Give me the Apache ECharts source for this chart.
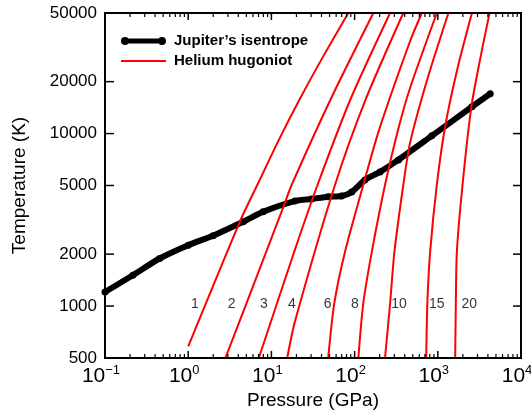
<!DOCTYPE html>
<html><head><meta charset="utf-8">
<script src="https://cdn.jsdelivr.net/npm/echarts@6/dist/echarts.min.js"></script>
<style>html,body{margin:0;padding:0;background:#fff}#c{width:531px;height:411px}</style>
</head><body><div id="c"></div>
<script>
// Jupiter's isentrope (Pressure GPa, Temperature K)
const isentropeP = [0.1, 0.216, 0.453, 1.0, 1.99, 4.57, 7.94, 19.1, 30.4, 48.2, 69.8, 92.3, 133, 202, 336, 847, 2570, 4266];
const isentropeT = [1207, 1509, 1887, 2254, 2559, 3080, 3521, 4063, 4174, 4304, 4345, 4584, 5383, 5992, 7036, 9701, 14300, 17020];

// Helium hugoniots [P (GPa), T (K)]
const hug1  = [[1.0,583],[4.17,3080],[6.92,5150],[12.3,9190],[21.7,15700],[41.8,27930],[84,50000]];
const hug2  = [[2.80,500],[5.0,1033],[14.2,3851],[17.5,5034],[51.9,15920],[168,50000]];
const hug3  = [[7.06,500],[19.1,2109],[36.2,5102],[90.3,16025],[267,50000]];
const hug4  = [[15.5,500],[19.1,807],[58.1,5034],[137,15920],[385,50000]];
const hug6  = [[48.2,500],[56.9,1033],[76.6,2061],[127,5034],[197,10510],[464,34280],[643,50000]];
const hug8  = [[111,500],[127,1033],[161,2061],[232,5034],[333,10510],[464,18370],[973,50000]];
const hug10 = [[232,500],[267,1033],[301,2061],[385,5034],[464,8831],[745,20530],[1343,50000]];
const hug15 = [[725,500],[750,1055],[809,2061],[973,5034],[1225,10990],[1710,23470],[2570,50000]];
const hug20 = [[1618,500],[1648,1055],[1694,2061],[1982,5034],[2521,14110],[3236,27200],[4188,50000]];

// curve labels
const hugLabels = ['1','2','3','4','6','8','10','15','20'];
const hugLabelP = [1.2, 3.33, 8.1, 17.6, 47.4, 101, 342, 973, 2384];
const hugLabelT = 1020;

// axis ticks and labels
const yLabelValues = [500, 1000, 2000, 5000, 10000, 20000, 50000];
const yTickValues = [1000, 2000, 5000, 10000, 20000];
const xLabelValues = [0.1, 1, 10, 100, 1000, 10000];
const xMajorTicks = [1, 10, 100, 1000];
const xMinorTicks = [];
for (const d of [0.1, 1, 10, 100, 1000]) for (let k = 2; k <= 9; k++) xMinorTicks.push(+(d * k).toPrecision(3));

const FONT = '"Liberation Sans", Arial, Helvetica, sans-serif';
const hugAll = [hug1, hug2, hug3, hug4, hug6, hug8, hug10, hug15, hug20];
const X_MIN = 0.1, X_MAX = 10000, Y_MIN = 500, Y_MAX = 50000;

const chart = echarts.init(document.getElementById('c'));

// tick / frame items: [x, y, kind] kind 0 = x major, 1 = x minor, 2 = y tick, 3 = frame
const tickData = [];
xMajorTicks.forEach(v => tickData.push([v, 1000, 0]));
xMinorTicks.forEach(v => tickData.push([v, 1000, 1]));
yTickValues.forEach(v => tickData.push([1, v, 2]));
tickData.push([1, 1000, 3]);

function seg(x1, y1, x2, y2, w) {
  return { type: 'line', shape: { x1: x1, y1: y1, x2: x2, y2: y2 }, style: { stroke: '#000', lineWidth: w } };
}
function renderTick(params, api) {
  const t = api.value(2);
  if (t === 3) {
    const a = api.coord([X_MIN, Y_MAX]), b = api.coord([X_MAX, Y_MIN]);
    return { type: 'group', children: [
      seg(a[0] - 1, a[1], b[0] + 1, a[1], 2), seg(b[0], a[1], b[0], b[1], 2),
      seg(a[0] - 1, b[1], b[0] + 1, b[1], 2), seg(a[0], a[1], a[0], b[1], 2)
    ] };
  }
  if (t === 2) {
    const v = api.value(1);
    const p = api.coord([X_MIN, v]), q = api.coord([X_MAX, v]);
    return { type: 'group', children: [seg(p[0], p[1], p[0] + 9, p[1], 1.5), seg(q[0], q[1], q[0] - 8, q[1], 1.5)] };
  }
  const len = t === 0 ? 7 : 4, w = t === 0 ? 1.5 : 1.2;
  const v = api.value(0);
  const p = api.coord([v, Y_MIN]), q = api.coord([v, Y_MAX]);
  return { type: 'group', children: [seg(p[0], p[1], p[0], p[1] - len, w), seg(q[0], q[1], q[0], q[1] + len, w)] };
}

const series = [{
  name: 'Jupiter\u2019s isentrope', type: 'line',
  data: isentropeP.map((p, i) => [p, isentropeT[i]]),
  symbol: 'circle', symbolSize: 7, showSymbol: true,
  itemStyle: { color: '#000' },
  lineStyle: { color: '#000', width: 6 },
  smooth: 0.25, z: 2
}];
hugAll.forEach(h => series.push({
  name: 'Helium hugoniot', type: 'line',
  data: h, symbol: 'none', smooth: 0.25,
  itemStyle: { color: '#ff0000' },
  lineStyle: { color: '#ff0000', width: 2 }, z: 3
}));
series.push({
  name: 'labels', type: 'scatter',
  symbolSize: 0, silent: true,
  data: hugLabels.map((t, i) => ({ name: t, value: [hugLabelP[i], hugLabelT] })),
  label: { show: true, position: 'inside', formatter: p => p.name, fontSize: 14, fontFamily: FONT, color: '#000' },
  z: 4
});
series.push({
  name: 'ticks', type: 'custom', silent: true, clip: false,
  renderItem: renderTick, data: tickData, encode: { x: 0, y: 1 }, z: 5
});

chart.setOption({
  animation: false,
  backgroundColor: '#fff',
  grid: { left: 105, right: 10, top: 13, bottom: 53, outerBoundsMode: 'none', containLabel: false },
  legend: {
    left: 121, top: 33, orient: 'vertical', padding: 0,
    itemWidth: 45, itemHeight: 8, itemGap: 4,
    textStyle: { fontSize: 15, fontWeight: 'bold', fontFamily: FONT, color: '#000', lineHeight: 16, padding: [0, 0, 0, 3] },
    data: [
      { name: 'Jupiter\u2019s isentrope', icon: 'path://M0,4 A4,4 0 1,1 8,4 A4,4 0 1,1 0,4 Z M37,4 A4,4 0 1,1 45,4 A4,4 0 1,1 37,4 Z M4,1.5 L41,1.5 L41,6.5 L4,6.5 Z' },
      { name: 'Helium hugoniot', icon: 'path://M0,3 L45,3 L45,5 L0,5 Z' }
    ]
  },
  xAxis: {
    type: 'log', min: X_MIN, max: X_MAX, position: 'bottom',
    axisLine: { show: true, lineStyle: { color: '#000', width: 2 } },
    splitLine: { show: false },
    axisTick: { show: false },
    axisLabel: {
      show: true, margin: 6, customValues: xLabelValues,
      padding: [0, 8, 0, 0],
      formatter: function (v) {
        const e = Math.round(Math.log10(v));
        return '{b|10}{s|' + (e < 0 ? '\u2212' + (-e) : e) + '}';
      },
      rich: {
        b: { fontSize: 21, lineHeight: 24, fontFamily: FONT, color: '#000' },
        s: { fontSize: 13, lineHeight: 13, verticalAlign: 'top', fontFamily: FONT, color: '#000' }
      }
    },
    name: 'Pressure (GPa)', nameLocation: 'middle', nameGap: 22,
    nameTextStyle: { fontSize: 19, fontFamily: FONT, color: '#000' }
  },
  yAxis: {
    type: 'log', min: Y_MIN, max: Y_MAX, position: 'left',
    axisLine: { show: true, lineStyle: { color: '#000', width: 2 } },
    splitLine: { show: false },
    axisTick: { show: false },
    axisLabel: {
      show: true, margin: 8, customValues: yLabelValues,
      fontSize: 17, fontFamily: FONT, color: '#000',
      formatter: v => String(Math.round(v))
    },
    name: 'Temperature (K)', nameLocation: 'middle', nameGap: 76,
    nameTextStyle: { fontSize: 19, fontFamily: FONT, color: '#000' }
  },
  series: series
});
</script>
</body></html>
